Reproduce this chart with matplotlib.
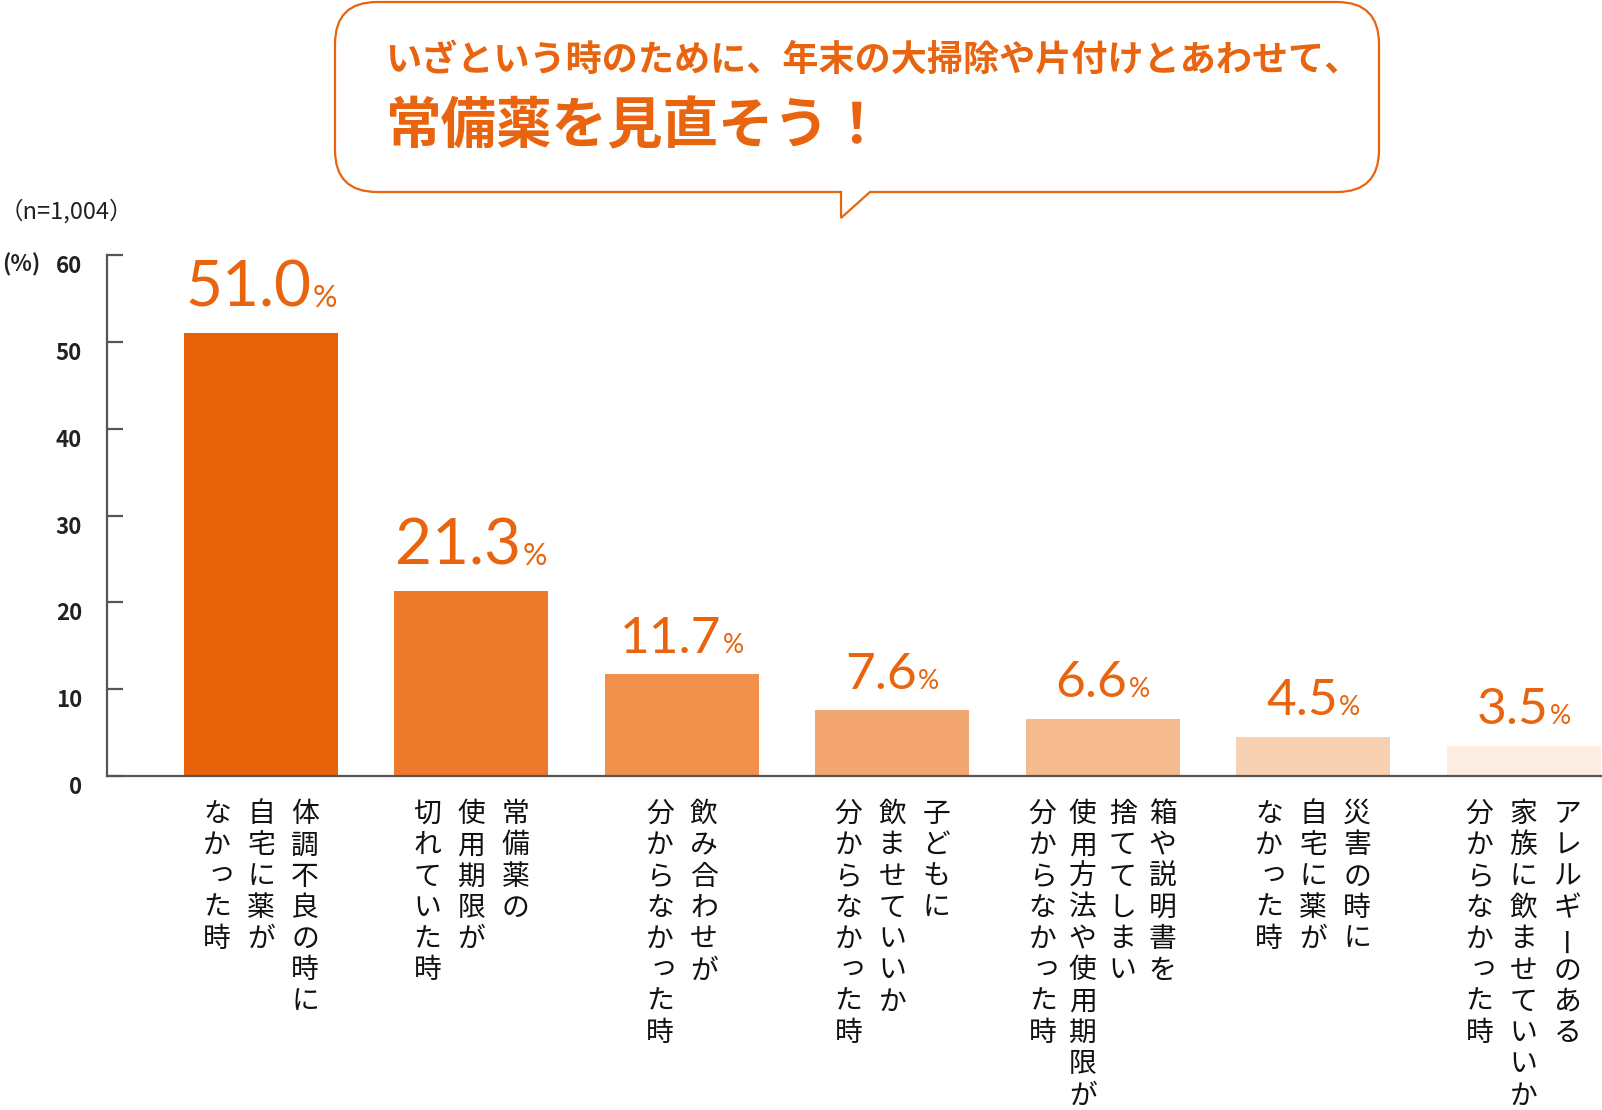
import matplotlib
matplotlib.use("Agg")
import matplotlib.pyplot as plt
import matplotlib.transforms as mtransforms
from matplotlib.path import Path
from matplotlib.patches import PathPatch
from matplotlib.offsetbox import TextArea, HPacker, AnnotationBbox

plt.rcParams['font.family'] = ['Noto Sans CJK JP', 'DejaVu Sans']

# data
values = [51.0, 21.3, 11.7, 7.6, 6.6, 4.5, 3.5]
value_labels = ["51.0", "21.3", "11.7", "7.6", "6.6", "4.5", "3.5"]
categories = [
    ["体調不良の時に", "自宅に薬が", "なかった時"],
    ["常備薬の", "使用期限が", "切れていた時"],
    ["飲み合わせが", "分からなかった時"],
    ["子どもに", "飲ませていいか", "分からなかった時"],
    ["箱や説明書を", "捨ててしまい", "使用方法や使用期限が", "分からなかった時"],
    ["災害の時に", "自宅に薬が", "なかった時"],
    ["アレルギーのある", "家族に飲ませていいか", "分からなかった時"],
]
bar_colors = ["#E8620A", "#ED7A2B", "#F0904B", "#F3A672", "#F6BA90", "#F8D0B2", "#FCEDE3"]
yticks = [0, 10, 20, 30, 40, 50, 60]
title_line1 = "いざという時のために、年末の大掃除や片付けとあわせて、"
title_line2 = "常備薬を見直そう！"
sample_note = "（n=1,004）"
unit_label = "(%)"

ORANGE = "#E8640E"
AXIS = "#555555"

W, H = 1602, 1110
fig = plt.figure(figsize=(W / 100, H / 100), dpi=100)
ax = fig.add_axes([107 / W, 1 - 776 / H, 1 - 107 / W, (776 - 255) / H])

x = list(range(len(values)))
ax.bar(x, values, width=0.732, color=bar_colors)
ax.set_xlim(-0.732, 6.373)
ax.set_ylim(0, 60)

for s in ["top", "right"]:
    ax.spines[s].set_visible(False)
for s in ["left", "bottom"]:
    ax.spines[s].set_color(AXIS)
    ax.spines[s].set_linewidth(1.6)

ax.set_xticks([])
ax.set_yticks(yticks)
ax.tick_params(axis="y", direction="in", length=11.5, width=1.6, color=AXIS,
               labelsize=16, labelcolor="#222222", pad=18)
shift = mtransforms.ScaledTranslation(0, -9 / 100, fig.dpi_scale_trans)
for lbl in ax.get_yticklabels():
    lbl.set_fontweight("bold")
    lbl.set_transform(lbl.get_transform() + shift)

# value labels (number + small %)
for i, (v, lab) in enumerate(zip(values, value_labels)):
    big = i < 2
    num = TextArea(lab, textprops=dict(color=ORANGE, fontsize=46 if big else 37, family="Lato"))
    pct = TextArea("%", textprops=dict(color=ORANGE, fontsize=22 if big else 19, family="Lato"))
    box = HPacker(children=[num, pct], align="baseline", pad=0, sep=1)
    ab = AnnotationBbox(box, (i, v), xybox=(0, 11 if big else 9), xycoords="data",
                        boxcoords="offset points", box_alignment=(0.5, 0),
                        frameon=False, annotation_clip=False)
    ax.add_artist(ab)

# vertical category labels (columns right to left)
pitch = 31.3
for i, cols in enumerate(categories):
    ncol = len(cols)
    sp = 44 if ncol <= 3 else 40
    for j, line in enumerate(cols):
        dx = ((ncol - 1) / 2 - j) * sp
        for k, ch in enumerate(line):
            dy = -(38 + k * pitch)
            rot = 0
            if ch in "っゃゅょ":
                dx2, dy2 = 4, 4
            else:
                dx2, dy2 = 0, 0
            if ch == "ー":
                rot = 90
            tr = mtransforms.offset_copy(ax.transData, fig=fig, x=dx + dx2, y=dy + dy2, units="dots")
            ax.text(i, 0, ch, transform=tr, ha="center", va="center", rotation=rot,
                    fontsize=20, color="#111111", clip_on=False)

# speech bubble
px = mtransforms.Affine2D().scale(1 / W, -1 / H).translate(0, 1) + fig.transFigure
L, R, T, B, r = 335, 1379, 2, 192, 42
verts = [
    (L + r, T), (R - r, T), (R, T), (R, T + r), (R, B - r), (R, B), (R - r, B),
    (870, B), (841, 218), (841, B), (L + r, B), (L, B), (L, B - r), (L, T + r), (L, T), (L + r, T),
]
codes = [
    Path.MOVETO, Path.LINETO, Path.CURVE3, Path.CURVE3, Path.LINETO, Path.CURVE3, Path.CURVE3,
    Path.LINETO, Path.LINETO, Path.LINETO, Path.LINETO, Path.CURVE3, Path.CURVE3, Path.LINETO,
    Path.CURVE3, Path.CURVE3,
]
bubble = PathPatch(Path(verts, codes), transform=px, facecolor="white",
                   edgecolor=ORANGE, lw=1.6)
fig.add_artist(bubble)

fig.text(385 / W, 1 - 60 / H, title_line1, fontsize=26, fontweight="bold", color=ORANGE, va="center")
fig.text(385 / W, 1 - 127 / H, title_line2, fontsize=40, fontweight="bold", color=ORANGE, va="center")

fig.text(0, 1 - 211 / H, sample_note, fontsize=17, color="#222222", va="center")
fig.text(2 / W, 1 - 265 / H, unit_label, fontsize=16, fontweight="bold", color="#222222",
         va="center")

fig.savefig("out.png", dpi=100)
